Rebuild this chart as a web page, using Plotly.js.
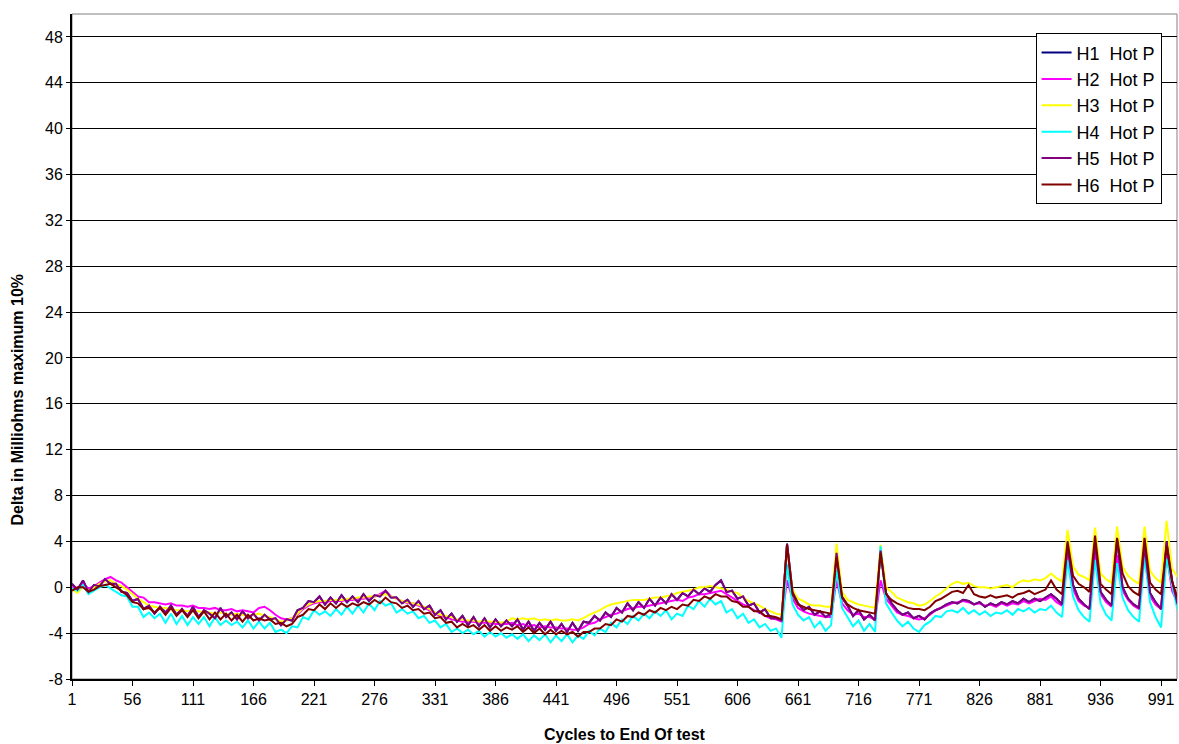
<!DOCTYPE html>
<html>
<head>
<meta charset="utf-8">
<script src="https://cdn.plot.ly/plotly-3.0.1.min.js"></script>
<style>
  html, body { margin: 0; padding: 0; background: #ffffff; }
  #chart { width: 1179px; height: 744px; }
</style>
</head>
<body>
<div id="chart"></div>
<script>
// Cycle numbers sampled along the x axis
const cycles = [1,6,11,16,21,26,31,36,41,46,51,56,61,66,71,76,81,86,91,96,
101,106,111,116,121,126,131,136,141,146,151,156,161,166,171,176,181,186,191,196,
201,206,211,216,221,226,231,236,241,246,251,256,261,266,271,276,281,286,291,296,
301,306,311,316,321,326,331,336,341,346,351,356,361,366,371,376,381,386,391,396,
401,406,411,416,421,426,431,436,441,446,451,456,461,466,471,476,481,486,491,496,
501,506,511,516,521,526,531,536,541,546,551,556,561,566,571,576,581,586,591,596,
601,606,611,616,621,626,631,636,641,646,651,656,661,666,671,676,681,686,691,696,
701,706,711,716,721,726,731,736,741,746,751,756,761,766,771,776,781,786,791,796,
801,806,811,816,821,826,831,836,841,846,851,856,861,866,871,876,881,886,891,896,
901,906,911,916,921,926,931,936,941,946,951,956,961,966,971,976,981,986,991,996,
1001,1006];

const seriesNames = ["H1\u00a0 Hot P", "H2\u00a0 Hot P", "H3\u00a0 Hot P", "H4\u00a0 Hot P", "H5\u00a0 Hot P", "H6\u00a0 Hot P"];

const xTickVals = [1,56,111,166,221,276,331,386,441,496,551,606,661,716,771,826,881,936,991];
const yTickVals = [-8,-4,0,4,8,12,16,20,24,28,32,36,40,44,48];

// H1 (hidden under H5 in the picture)
const h1 = [0.3,-0.2,0.6,-0.4,0.2,0.1,0.7,0.3,0.3,-0.4,
-0.5,-1.2,-1.0,-1.9,-1.6,-2.3,-1.7,-2.2,-1.6,-2.4,-1.9,-2.5,-1.7,-2.6,-2.0,-2.3,-2.7,-1.8,-2.6,-2.2,-2.8,-2.1,-2.7,-2.3,-2.9,-2.4,-2.8,-2.7,-3.3,-2.8,
-2.9,-2.0,-1.8,-1.2,-1.3,-0.8,-1.5,-0.9,-1.4,-0.7,-1.3,-0.8,-1.3,-0.6,-1.2,-0.7,-0.8,-0.3,-0.9,-0.9,-1.4,-1.1,-1.7,-1.2,-1.9,-1.6,-2.4,-2.0,-2.8,-2.3,-3.0,-2.5,-3.3,-2.6,-3.4,-2.7,-3.5,-2.8,-3.4,-2.9,
-3.4,-2.8,-3.7,-3.0,-3.8,-3.1,-3.7,-3.0,-3.8,-3.2,-3.9,-3.1,-3.8,-3.0,-3.1,-2.5,-2.9,-2.2,-2.6,-1.8,-2.2,-1.4,-2.0,-1.3,-1.8,-1.0,-1.6,-0.9,-1.4,-0.6,-1.1,-0.5,-0.8,-0.2,-0.6,-0.1,-0.4,0.2,0.6,-0.4,-0.3,-1.0,-0.8,-1.6,-1.4,-2.2,-1.9,-2.7,
-2.7,-2.9,3.8,-0.4,-1.4,-2.0,-1.7,-2.4,-2.1,-2.6,-2.3,3.0,-0.9,-1.6,-2.5,-2.0,-2.8,-2.4,-2.9,3.2,
-0.5,-1.4,-2.0,-2.4,-2.2,-2.7,-2.5,-2.8,-2.3,-2.0,-1.8,-1.5,-1.3,-1.4,-1.1,-1.2,-1.5,-1.3,-1.7,-1.4,
-1.6,-1.3,-1.5,-1.2,-1.4,-1.0,-1.3,-1.0,-1.2,-0.9,-0.6,-1.0,-1.5,3.6,0.2,-1.0,-1.5,-1.9,3.9,-0.4,
-1.1,-1.6,4.2,0.0,-1.0,-1.5,-1.8,3.6,-0.5,-1.3,-1.9,4.0,0.6,-1.5];

// H2 magenta
const h2 = [0.0,-0.1,0.3,-0.1,0.1,0.4,0.7,0.9,0.6,0.4,
0.0,-0.4,-0.8,-0.9,-1.3,-1.3,-1.4,-1.5,-1.4,-1.6,-1.6,-1.7,-1.6,-1.8,-1.8,-1.9,-1.8,-2.0,-2.0,-1.9,-2.1,-2.0,-2.1,-2.2,-1.8,-1.7,-2.0,-2.4,-2.7,-2.8,
-2.7,-2.4,-1.9,-1.6,-1.4,-1.3,-1.3,-1.2,-1.2,-1.2,-1.1,-1.1,-1.0,-1.0,-0.9,-0.8,-0.6,-0.3,-0.8,-1.0,-1.2,-1.4,-1.4,-1.6,-1.8,-2.0,-2.3,-2.5,-2.6,-2.8,-2.9,-3.0,-3.0,-3.0,-3.1,-3.1,-3.1,-3.2,-3.2,-3.2,
-3.1,-3.3,-3.2,-3.4,-3.3,-3.5,-3.4,-3.5,-3.5,-3.6,-3.6,-3.7,-3.7,-3.5,-3.2,-3.1,-2.8,-2.6,-2.4,-2.3,-2.1,-1.9,-1.8,-1.7,-1.7,-1.6,-1.5,-1.4,-1.3,-1.2,-1.1,-1.2,-0.9,-0.8,-0.6,-0.6,-0.5,-0.4,-0.3,-0.6,-0.9,-1.2,-1.5,-1.7,-2.0,-2.2,-2.5,-2.7,
-2.8,-3.0,0.6,-1.0,-1.8,-2.1,-2.3,-2.4,-2.5,-2.6,-2.6,0.6,-1.4,-2.0,-2.4,-2.3,-2.6,-2.6,-2.8,0.6,
-1.0,-1.6,-2.2,-2.4,-2.5,-2.7,-2.8,-2.7,-2.4,-2.0,-1.8,-1.6,-1.4,-1.3,-1.2,-1.3,-1.5,-1.4,-1.6,-1.5,
-1.7,-1.4,-1.6,-1.4,-1.5,-1.2,-1.4,-1.2,-1.0,-1.1,-0.8,-1.3,-1.6,2.8,-0.2,-1.2,-1.6,-1.8,3.0,-0.6,
-1.3,-1.7,2.8,-0.3,-1.1,-1.6,-1.9,2.9,-0.8,-1.5,-1.9,3.0,-0.3,-1.4];

// H3 yellow
const h3 = [-0.2,-0.5,0.1,-0.3,0.0,0.3,0.5,0.6,0.3,0.1,
-0.2,-0.6,-1.0,-1.3,-1.6,-1.7,-1.8,-1.8,-1.9,-2.0,-2.0,-2.1,-2.0,-2.1,-2.2,-2.2,-2.3,-2.2,-2.3,-2.4,-2.3,-2.4,-2.5,-2.4,-2.3,-2.5,-2.6,-2.8,-3.0,-2.9,
-2.7,-2.3,-1.8,-1.5,-1.3,-1.2,-1.2,-1.1,-1.1,-1.1,-1.0,-1.0,-0.9,-0.9,-0.8,-0.8,-0.7,-0.6,-0.8,-1.0,-1.2,-1.3,-1.4,-1.5,-1.7,-1.9,-2.2,-2.4,-2.5,-2.6,-2.8,-2.8,-2.9,-2.9,-3.0,-2.9,-3.0,-3.0,-3.1,-3.0,
-2.7,-2.8,-2.7,-2.8,-2.7,-2.9,-2.8,-2.9,-2.8,-2.9,-2.9,-2.8,-2.9,-2.7,-2.4,-2.2,-2.0,-1.7,-1.5,-1.4,-1.3,-1.2,-1.1,-1.1,-1.1,-1.0,-0.9,-0.9,-0.8,-0.7,-0.5,-0.4,-0.3,-0.2,0.0,0.0,0.1,0.0,-0.1,-0.2,-0.4,-0.5,-0.9,-1.2,-1.4,-1.6,-1.9,-2.1,
-2.3,-2.4,3.5,-0.2,-1.0,-1.2,-1.5,-1.6,-1.6,-1.7,-1.7,3.8,-0.4,-1.1,-1.3,-1.5,-1.6,-1.7,-1.8,3.7,
0.0,-0.4,-0.9,-1.1,-1.3,-1.4,-1.6,-1.5,-1.2,-0.8,-0.5,-0.1,0.3,0.5,0.3,0.4,0.1,0.0,0.0,-0.1,
0.0,0.1,0.2,0.0,0.4,0.6,0.5,0.7,0.6,0.8,1.2,0.8,0.5,5.0,1.8,1.1,0.9,0.6,5.2,1.2,
0.7,0.4,5.3,1.8,1.0,0.6,0.3,5.3,1.4,0.8,0.4,5.8,1.6,0.9];

// H4 cyan
const h4 = [-0.1,-0.3,0.2,-0.6,-0.3,0.0,0.2,-0.1,-0.4,-0.7,
-0.8,-1.7,-1.7,-2.6,-2.2,-2.7,-2.3,-3.1,-2.3,-3.2,-2.5,-3.3,-2.6,-3.2,-2.6,-3.4,-2.6,-3.3,-2.9,-3.3,-3.0,-3.5,-2.9,-3.6,-3.0,-3.6,-3.1,-3.9,-3.7,-4.0,
-3.4,-3.5,-2.6,-2.8,-2.0,-2.4,-2.1,-2.5,-1.9,-2.4,-1.7,-2.3,-1.6,-2.2,-1.4,-2.0,-1.2,-1.6,-1.4,-2.2,-1.9,-2.3,-2.1,-2.7,-2.5,-3.1,-2.9,-3.5,-3.2,-3.9,-3.6,-4.0,-3.7,-4.1,-3.8,-4.3,-3.9,-4.3,-4.0,-4.4,
-4.1,-4.5,-4.1,-4.7,-4.2,-4.6,-4.1,-4.8,-4.2,-4.7,-4.1,-4.8,-4.2,-4.5,-3.8,-4.2,-3.6,-3.9,-3.1,-3.5,-2.8,-3.2,-2.5,-2.9,-2.3,-2.7,-2.1,-2.5,-2.0,-2.8,-2.3,-2.5,-1.6,-1.9,-1.2,-1.7,-1.0,-1.5,-1.2,-2.2,-1.9,-2.7,-2.3,-3.1,-2.8,-3.5,-3.2,-3.8,
-3.6,-4.4,2.0,-1.5,-2.4,-2.9,-2.6,-3.5,-3.0,-3.8,-3.3,1.5,-1.8,-2.6,-3.4,-2.9,-3.8,-3.2,-3.9,3.6,
-1.4,-2.2,-2.9,-3.4,-3.0,-3.6,-3.9,-3.3,-3.0,-2.5,-2.6,-2.1,-2.0,-2.2,-1.8,-2.3,-2.0,-2.4,-2.1,-2.5,
-2.2,-2.3,-2.0,-2.4,-1.9,-2.1,-1.8,-2.2,-1.9,-2.0,-1.6,-2.2,-2.6,2.4,-0.8,-2.0,-2.6,-3.0,2.4,-1.4,
-2.4,-2.9,2.1,-0.9,-2.0,-2.6,-3.0,2.7,-1.3,-2.6,-3.5,2.5,0.2,-2.0];

// H5 purple
const h5 = [0.3,-0.2,0.6,-0.4,0.2,0.1,0.7,0.3,0.3,-0.4,
-0.5,-1.2,-1.0,-1.9,-1.6,-2.3,-1.7,-2.2,-1.6,-2.4,-1.9,-2.5,-1.7,-2.6,-2.0,-2.3,-2.7,-1.8,-2.6,-2.2,-2.8,-2.1,-2.7,-2.3,-2.9,-2.4,-2.8,-2.7,-3.3,-2.8,
-2.9,-2.0,-1.8,-1.2,-1.3,-0.8,-1.5,-0.9,-1.4,-0.7,-1.3,-0.8,-1.3,-0.6,-1.2,-0.7,-0.8,-0.3,-0.9,-0.9,-1.4,-1.1,-1.7,-1.2,-1.9,-1.6,-2.4,-2.0,-2.8,-2.3,-3.0,-2.5,-3.3,-2.6,-3.4,-2.7,-3.5,-2.8,-3.4,-2.9,
-3.4,-2.8,-3.7,-3.0,-3.8,-3.1,-3.7,-3.0,-3.8,-3.2,-3.9,-3.1,-3.8,-3.0,-3.1,-2.5,-2.9,-2.2,-2.6,-1.8,-2.2,-1.4,-2.0,-1.3,-1.8,-1.0,-1.6,-0.9,-1.4,-0.6,-1.1,-0.5,-0.8,-0.2,-0.6,-0.1,-0.4,0.2,0.6,-0.4,-0.3,-1.0,-0.8,-1.6,-1.4,-2.2,-1.9,-2.7,
-2.7,-2.9,3.8,-0.4,-1.4,-2.0,-1.7,-2.4,-2.1,-2.6,-2.3,3.0,-0.9,-1.6,-2.5,-2.0,-2.8,-2.4,-2.9,3.2,
-0.5,-1.4,-2.0,-2.4,-2.2,-2.7,-2.5,-2.8,-2.3,-2.0,-1.8,-1.5,-1.3,-1.4,-1.1,-1.2,-1.5,-1.3,-1.7,-1.4,
-1.6,-1.3,-1.5,-1.2,-1.4,-1.0,-1.3,-1.0,-1.2,-0.9,-0.6,-1.0,-1.5,3.6,0.2,-1.0,-1.5,-1.9,3.9,-0.4,
-1.1,-1.6,4.2,0.0,-1.0,-1.5,-1.8,3.6,-0.5,-1.3,-1.9,4.0,0.6,-1.5];

// H6 dark red
const h6 = [-0.3,0.0,0.0,-0.4,-0.2,0.1,0.2,0.3,0.0,-0.3,
-0.7,-1.3,-1.4,-1.9,-1.8,-2.2,-1.8,-2.4,-1.8,-2.5,-2.0,-2.6,-2.0,-2.7,-2.1,-2.8,-2.2,-2.8,-2.3,-2.9,-2.4,-3.0,-2.4,-2.9,-2.7,-2.9,-2.8,-3.2,-3.1,-3.4,
-3.2,-2.6,-2.4,-1.9,-2.0,-1.5,-1.9,-1.4,-1.8,-1.4,-1.7,-1.4,-1.6,-1.3,-1.5,-1.1,-1.4,-0.9,-1.3,-1.4,-1.8,-1.6,-2.0,-1.9,-2.3,-2.2,-2.7,-2.6,-3.1,-3.0,-3.5,-3.2,-3.5,-3.3,-3.7,-3.3,-3.8,-3.4,-3.8,-3.5,
-3.7,-3.4,-3.9,-3.5,-4.0,-3.6,-4.1,-3.7,-4.1,-3.8,-4.1,-3.9,-4.3,-3.9,-3.9,-3.6,-3.6,-3.2,-3.3,-2.8,-3.0,-2.5,-2.6,-2.2,-2.4,-2.0,-2.2,-1.8,-2.0,-1.7,-1.9,-1.5,-1.6,-1.1,-1.2,-0.8,-1.0,-0.6,-0.8,-0.8,-1.2,-1.3,-1.7,-1.7,-2.1,-2.1,-2.5,-2.5,
-2.6,-2.8,3.7,-0.6,-1.5,-1.7,-1.9,-2.0,-2.1,-2.2,-2.3,2.6,-0.8,-1.5,-1.8,-2.0,-2.1,-2.2,-2.3,3.0,
-0.6,-1.1,-1.4,-1.6,-1.8,-1.9,-1.9,-2.0,-1.7,-1.2,-1.0,-0.7,-0.4,-0.3,-0.5,0.2,-0.6,-0.8,-0.9,-0.7,
-0.9,-0.8,-0.7,-0.9,-0.6,-0.5,-0.3,-0.6,-0.4,-0.2,0.6,-0.2,-0.6,4.0,1.0,0.3,0.0,-0.4,4.5,0.3,
-0.2,-0.6,4.3,1.2,0.1,-0.4,-0.7,4.3,0.4,-0.2,-0.6,3.6,0.5,-0.9];

const seriesValues = [h1, h2, h3, h4, h5, h6];
const seriesColors = ["#000080", "#FF00FF", "#FFFF00", "#00FFFF", "#800080", "#800000"];

const FONT = "Liberation Sans, Arial, sans-serif";

const traces = seriesNames.map((name, k) => ({
  type: "scatter",
  mode: "lines",
  name: name,
  legendgroup: "g" + k,
  x: cycles,
  y: seriesValues[k],
  line: { color: seriesColors[k], width: 2 },
  hoverinfo: "x+y+name"
}));

const layout = {
  width: 1179,
  height: 744,
  paper_bgcolor: "#ffffff",
  plot_bgcolor: "#ffffff",
  margin: { l: 72, r: 2, t: 14, b: 65 },
  font: { family: FONT, size: 16, color: "#000000" },
  showlegend: true,
  legend: {
    x: 0.872, y: 0.971, xanchor: "left", yanchor: "top",
    bgcolor: "#ffffff", bordercolor: "#000000", borderwidth: 1,
    font: { family: FONT, size: 18, color: "#000000" },
    tracegroupgap: 7,
    traceorder: "normal"
  },
  xaxis: {
    type: "linear",
    range: [1, 1005.5],
    tickmode: "array",
    tickvals: xTickVals,
    ticktext: xTickVals.map(String),
    ticks: "outside", ticklen: 5, tickwidth: 1, tickcolor: "#000000",
    showline: true, linecolor: "#000000", linewidth: 2,
    showgrid: false, zeroline: false,
    tickfont: { family: FONT, size: 16, color: "#000000" }
  },
  yaxis: {
    range: [-8, 50],
    tickmode: "array",
    tickvals: yTickVals,
    ticktext: yTickVals.map(String),
    ticks: "outside", ticklen: 4, tickwidth: 1, tickcolor: "#000000",
    showline: true, linecolor: "#000000", linewidth: 2,
    showgrid: true, gridcolor: "#000000", gridwidth: 1,
    zeroline: false,
    tickfont: { family: FONT, size: 16, color: "#000000" }
  },
  shapes: [{
    type: "rect", xref: "paper", yref: "paper", x0: 0, x1: 1, y0: 0, y1: 1,
    line: { color: "#808080", width: 1 }, layer: "below"
  }],
  annotations: [
    {
      text: "<b>Delta in Milliohms maximum 10%</b>",
      xref: "paper", yref: "paper", x: -0.049, y: 0.42,
      xanchor: "center", yanchor: "middle", textangle: -90, showarrow: false,
      font: { family: FONT, size: 16, color: "#000000" }
    },
    {
      text: "<b>Cycles to End Of test</b>",
      xref: "paper", yref: "paper", x: 0.5, y: -0.084,
      xanchor: "center", yanchor: "middle", showarrow: false,
      font: { family: FONT, size: 16, color: "#000000" }
    }
  ]
};

Plotly.newPlot("chart", traces, layout, { displayModeBar: false, staticPlot: true });
</script>
</body>
</html>
